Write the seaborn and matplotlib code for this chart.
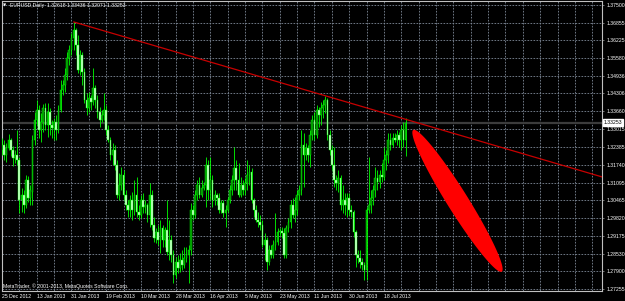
import numpy as np
import pandas as pd
import matplotlib
matplotlib.use("Agg")
import matplotlib.pyplot as plt
import matplotlib.transforms as mtransforms
from matplotlib.patches import Polygon
import seaborn as sns

# ---------------- data (EURUSD, Daily) ----------------
opens = [
    1.3227, 1.3245, 1.3209, 1.3234, 1.3263, 1.3227, 1.3198, 1.3209, 1.3191, 1.3047,
    1.3065, 1.3029, 1.3119, 1.3054, 1.3076, 1.3263, 1.3335, 1.3371, 1.3299, 1.3328,
    1.3378, 1.3317, 1.3364, 1.3317, 1.3306, 1.3328, 1.3299, 1.3371, 1.3443, 1.3461,
    1.3497, 1.3558, 1.3587, 1.3630, 1.3659, 1.3605, 1.3515, 1.3569, 1.3508, 1.3407,
    1.3378, 1.3414, 1.3400, 1.3450, 1.3407, 1.3364, 1.3335, 1.3353, 1.3371, 1.3299,
    1.3263, 1.3209, 1.3227, 1.3173, 1.3065, 1.3101, 1.3137, 1.3065, 1.3029, 1.3011,
    1.3047, 1.3011, 1.3065, 1.3004, 1.2993, 1.3047, 1.3022, 1.3029, 1.2993, 1.3065,
    1.2957, 1.2910, 1.2932, 1.2903, 1.2946, 1.2903, 1.2939, 1.2860, 1.2903, 1.2849,
    1.2777, 1.2824, 1.2802, 1.2831, 1.2813, 1.2838, 1.2849, 1.2867, 1.3011, 1.2993,
    1.3065, 1.3101, 1.3065, 1.3090, 1.3101, 1.3173, 1.3083, 1.3119, 1.3047, 1.3065,
    1.3054, 1.3011, 1.3036, 1.3000, 1.3011, 1.3047, 1.3083, 1.3119, 1.3162, 1.3119,
    1.3065, 1.3101, 1.3083, 1.3108, 1.3137, 1.3148, 1.3047, 1.3011, 1.2975, 1.2968,
    1.2957, 1.2885, 1.2903, 1.2824, 1.2867, 1.2849, 1.2885, 1.2896, 1.2932, 1.2935,
    1.2928, 1.2849, 1.2946, 1.2968, 1.3029, 1.2993, 1.3011, 1.3065, 1.3083, 1.3245,
    1.3209, 1.3234, 1.3209, 1.3281, 1.3335, 1.3281, 1.3371, 1.3353, 1.3378, 1.3389,
    1.3407, 1.3281, 1.3227, 1.3173, 1.3119, 1.3108, 1.3126, 1.3029, 1.3047, 1.3029,
    1.3054, 1.3011, 1.3004, 1.2932, 1.2849, 1.2838, 1.2824, 1.2813, 1.2795, 1.3011,
    1.3029, 1.3054, 1.3083, 1.3126, 1.3112, 1.3137, 1.3130, 1.3191, 1.3209, 1.3263,
    1.3245, 1.3270, 1.3263, 1.3281, 1.3263, 1.3299, 1.32618,
]
highs = [
    1.3270, 1.3263, 1.3252, 1.3285, 1.3270, 1.3241, 1.3227, 1.3299, 1.3202, 1.3090,
    1.3083, 1.3137, 1.3134, 1.3101, 1.3281, 1.3364, 1.3407, 1.3389, 1.3360, 1.3393,
    1.3396, 1.3396, 1.3378, 1.3335, 1.3342, 1.3353, 1.3389, 1.3479, 1.3479, 1.3522,
    1.3580, 1.3605, 1.3648, 1.3688, 1.3666, 1.3641, 1.3587, 1.3580, 1.3522, 1.3432,
    1.3436, 1.3425, 1.3522, 1.3461, 1.3425, 1.3382, 1.3371, 1.3432, 1.3389, 1.3317,
    1.3274, 1.3252, 1.3245, 1.3191, 1.3144, 1.3166, 1.3155, 1.3083, 1.3047, 1.3065,
    1.3076, 1.3119, 1.3130, 1.3029, 1.3065, 1.3072, 1.3047, 1.3036, 1.3108, 1.3083,
    1.2986, 1.2946, 1.2957, 1.2975, 1.2957, 1.2950, 1.3047, 1.2975, 1.2921, 1.2867,
    1.2842, 1.2849, 1.2856, 1.2867, 1.2878, 1.2878, 1.2885, 1.3036, 1.3029, 1.3083,
    1.3119, 1.3130, 1.3119, 1.3112, 1.3202, 1.3191, 1.3202, 1.3137, 1.3083, 1.3072,
    1.3072, 1.3047, 1.3047, 1.3029, 1.3058, 1.3101, 1.3137, 1.3238, 1.3191, 1.3180,
    1.3130, 1.3119, 1.3126, 1.3191, 1.3173, 1.3162, 1.3054, 1.3029, 1.3004, 1.2993,
    1.2975, 1.2928, 1.2914, 1.2885, 1.2885, 1.2903, 1.3000, 1.2946, 1.2946, 1.2950,
    1.2946, 1.2957, 1.2982, 1.3047, 1.3054, 1.3058, 1.3083, 1.3101, 1.3299, 1.3288,
    1.3252, 1.3245, 1.3299, 1.3353, 1.3364, 1.3389, 1.3382, 1.3400, 1.3407, 1.3421,
    1.3414, 1.3299, 1.3245, 1.3238, 1.3137, 1.3155, 1.3137, 1.3101, 1.3072, 1.3072,
    1.3072, 1.3029, 1.3011, 1.2939, 1.2867, 1.2867, 1.2838, 1.2824, 1.3022, 1.3202,
    1.3083, 1.3101, 1.3166, 1.3155, 1.3155, 1.3180, 1.3238, 1.3227, 1.3288, 1.3288,
    1.3288, 1.3288, 1.3299, 1.3292, 1.3317, 1.3328, 1.33436,
]
lows = [
    1.3209, 1.3191, 1.3184, 1.3227, 1.3205, 1.3169, 1.3180, 1.3173, 1.3000, 1.3004,
    1.3000, 1.3018, 1.3040, 1.3029, 1.3029, 1.3245, 1.3317, 1.3270, 1.3256, 1.3292,
    1.3299, 1.3274, 1.3281, 1.3270, 1.3263, 1.3263, 1.3288, 1.3364, 1.3425, 1.3436,
    1.3479, 1.3533, 1.3569, 1.3587, 1.3569, 1.3504, 1.3497, 1.3461, 1.3396, 1.3353,
    1.3364, 1.3371, 1.3389, 1.3378, 1.3342, 1.3310, 1.3328, 1.3335, 1.3281, 1.3256,
    1.3191, 1.3173, 1.3155, 1.3054, 1.3047, 1.3083, 1.3047, 1.3011, 1.2986, 1.2986,
    1.2975, 1.2993, 1.2986, 1.2975, 1.2982, 1.3000, 1.3000, 1.2968, 1.2950, 1.2939,
    1.2896, 1.2892, 1.2885, 1.2856, 1.2878, 1.2878, 1.2849, 1.2831, 1.2824, 1.2748,
    1.2766, 1.2784, 1.2788, 1.2795, 1.2802, 1.2824, 1.2748, 1.2849, 1.2975, 1.2982,
    1.3047, 1.3054, 1.3058, 1.3083, 1.3022, 1.3047, 1.3047, 1.3022, 1.3029, 1.3029,
    1.3000, 1.3000, 1.2986, 1.2950, 1.3004, 1.3036, 1.3065, 1.3083, 1.3083, 1.3058,
    1.3058, 1.3065, 1.3065, 1.3083, 1.3101, 1.3036, 1.2986, 1.2968, 1.2950, 1.2939,
    1.2878, 1.2831, 1.2795, 1.2813, 1.2838, 1.2838, 1.2867, 1.2885, 1.2917, 1.2910,
    1.2838, 1.2838, 1.2932, 1.2946, 1.2982, 1.2968, 1.2993, 1.3047, 1.3065, 1.3094,
    1.3191, 1.3184, 1.3166, 1.3263, 1.3263, 1.3270, 1.3310, 1.3317, 1.3342, 1.3360,
    1.3263, 1.3209, 1.3155, 1.3094, 1.3083, 1.3076, 1.3011, 1.3000, 1.2993, 1.2986,
    1.2993, 1.2986, 1.2914, 1.2806, 1.2820, 1.2802, 1.2795, 1.2759, 1.2759, 1.3000,
    1.3000, 1.3029, 1.3058, 1.3083, 1.3090, 1.3112, 1.3119, 1.3155, 1.3180, 1.3227,
    1.3238, 1.3256, 1.3245, 1.3238, 1.3227, 1.3238, 1.32071,
]
closes = [
    1.3245, 1.3209, 1.3234, 1.3263, 1.3227, 1.3198, 1.3209, 1.3191, 1.3047, 1.3065,
    1.3029, 1.3119, 1.3054, 1.3083, 1.3263, 1.3335, 1.3371, 1.3299, 1.3328, 1.3378,
    1.3317, 1.3364, 1.3317, 1.3306, 1.3328, 1.3299, 1.3371, 1.3443, 1.3461, 1.3497,
    1.3558, 1.3587, 1.3630, 1.3659, 1.3605, 1.3515, 1.3569, 1.3508, 1.3407, 1.3378,
    1.3414, 1.3400, 1.3450, 1.3407, 1.3364, 1.3335, 1.3353, 1.3371, 1.3299, 1.3263,
    1.3209, 1.3227, 1.3173, 1.3065, 1.3101, 1.3137, 1.3065, 1.3029, 1.3011, 1.3047,
    1.3011, 1.3065, 1.3004, 1.2993, 1.3047, 1.3022, 1.3029, 1.2993, 1.3065, 1.2957,
    1.2910, 1.2932, 1.2903, 1.2946, 1.2903, 1.2939, 1.2860, 1.2903, 1.2849, 1.2777,
    1.2824, 1.2802, 1.2831, 1.2813, 1.2838, 1.2849, 1.2867, 1.3011, 1.2993, 1.3065,
    1.3101, 1.3065, 1.3090, 1.3101, 1.3173, 1.3083, 1.3119, 1.3047, 1.3065, 1.3054,
    1.3011, 1.3036, 1.3000, 1.3011, 1.3047, 1.3083, 1.3119, 1.3162, 1.3119, 1.3065,
    1.3101, 1.3083, 1.3108, 1.3137, 1.3148, 1.3047, 1.3011, 1.2975, 1.2968, 1.2957,
    1.2885, 1.2903, 1.2824, 1.2867, 1.2849, 1.2885, 1.2896, 1.2932, 1.2935, 1.2928,
    1.2849, 1.2946, 1.2968, 1.3029, 1.2993, 1.3011, 1.3065, 1.3083, 1.3245, 1.3209,
    1.3234, 1.3209, 1.3281, 1.3335, 1.3281, 1.3371, 1.3353, 1.3378, 1.3389, 1.3407,
    1.3281, 1.3227, 1.3173, 1.3119, 1.3108, 1.3126, 1.3029, 1.3047, 1.3029, 1.3054,
    1.3011, 1.3004, 1.2932, 1.2849, 1.2838, 1.2824, 1.2813, 1.2795, 1.3011, 1.3029,
    1.3054, 1.3083, 1.3126, 1.3112, 1.3137, 1.3130, 1.3191, 1.3209, 1.3263, 1.3245,
    1.3270, 1.3263, 1.3281, 1.3263, 1.3299, 1.3263, 1.33253,
]

date_labels = ["25 Dec 2012", "13 Jan 2013", "31 Jan 2013", "19 Feb 2013",
               "10 Mar 2013", "28 Mar 2013", "16 Apr 2013", "5 May 2013",
               "23 May 2013", "11 Jun 2013", "30 Jun 2013", "18 Jul 2013"]
price_ticks = [1.37500, 1.36855, 1.36225, 1.35580, 1.34936, 1.34306, 1.33660,
               1.33015, 1.32385, 1.31740, 1.31095, 1.30465, 1.29820, 1.29175,
               1.28530, 1.27900, 1.27255]
price_labels = ["1.37500", "1.36855", "1.36225", "1.35580", "1.34936", "1.34306",
                "1.33660", "1.33015", "1.32385", "1.31740", "1.31095", "1.30465",
                "1.29820", "1.29175", "1.28530", "1.27900", "1.27255"]

# trend line (bar index, price) and the red ellipse (major-axis tips)
trend_x = [33, 277]
trend_y = [1.3688, 1.3129]
ellipse_x = [189.5, 230.3]
ellipse_y = [1.3299, 1.2789]

header = "EURUSD,Daily  1.32618 1.33436 1.32071 1.33253"
credit = "MetaTrader, \u00a9 2001-2013, MetaQuotes Software Corp."
last_price = "1.33253"

# ---------------- style ----------------
sns.set_theme(style="dark")
plt.rcParams['font.family'] = ['Liberation Sans', 'DejaVu Sans']

W, H, DPI = 625, 301, 100
fig = plt.figure(figsize=(W / DPI, H / DPI), dpi=DPI, facecolor='black')
ax = fig.add_axes([2 / W, 10 / H, 600 / W, 290 / H])
ax.set_facecolor('black')

df = pd.DataFrame({"open": opens, "high": highs, "low": lows, "close": closes})
df["bar"] = np.arange(len(df))
df["bull"] = df["close"] >= df["open"]

ax.set_xlim(0, 276.5)
ax.set_ylim(1.27194, 1.37634)

# grid
ax.set_axisbelow(True)
ax.set_xticks(np.arange(0, 277, 8))
xl = []
for k in np.arange(0, 277, 8):
    idx = k // 16
    xl.append(date_labels[idx] if (k % 16 == 0 and idx < len(date_labels)) else "")
ax.set_xticklabels(xl)
for lab in ax.get_xticklabels():
    lab.set_ha('left')
ax.yaxis.tick_right()
ax.set_yticks(price_ticks)
ax.set_yticklabels(price_labels)
ax.grid(True, color='#7f8a99', linestyle=(0, (2.0, 1.6)), linewidth=0.6)
ax.tick_params(axis='both', colors='#c8c8c8', labelcolor='white', labelsize=3.7,
               length=1.5, width=0.4, pad=1.0)
ax.tick_params(axis='y', pad=1.5)
for s in ax.spines.values():
    s.set_color('#c0c0c0')
    s.set_linewidth(0.8)

# current price line
ax.axhline(closes[-1], color='#3c3c3c', lw=1.6, zorder=1.5)

# candles
ax.vlines(df["bar"], df["low"], df["high"], color='#00ff00', lw=0.6, zorder=3)
bull = df[df["bull"]]
bear = df[~df["bull"]]
ax.bar(bull["bar"], bull["close"] - bull["open"], bottom=bull["open"], width=0.8,
       color='#008a00', edgecolor='#00ff00', linewidth=0.3, zorder=4)
ax.bar(bear["bar"], bear["open"] - bear["close"], bottom=bear["close"], width=0.8,
       color='#d8ffd8', edgecolor='#00ff00', linewidth=0.3, zorder=4)

# trend line
sns.lineplot(x=trend_x, y=trend_y, color='#c80000', lw=0.9, ax=ax, zorder=5,
             legend=False)
ax.set_xlim(0, 276.5)
ax.set_ylim(1.27194, 1.37634)
ax.set_xlabel("")
ax.set_ylabel("")

# red ellipse
p1 = ax.transData.transform((ellipse_x[0], ellipse_y[0]))
p2 = ax.transData.transform((ellipse_x[1], ellipse_y[1]))
c = (p1 + p2) / 2
d = p2 - p1
a = np.hypot(*d) / 2
u = d / (2 * a)
v = np.array([-u[1], u[0]])
b = 10.5
t = np.linspace(0, 2 * np.pi, 240)
pts = c + a * np.cos(t)[:, None] * u + b * np.sin(t)[:, None] * v
ax.add_patch(Polygon(ax.transData.inverted().transform(pts), closed=True,
                     facecolor='#ff0000', edgecolor='none', zorder=6))

# current price label
trans = mtransforms.blended_transform_factory(ax.transAxes, ax.transData)
ax.text(1.0035, closes[-1], last_price, transform=trans, ha='left', va='center',
        fontsize=3.7, color='black', zorder=10, clip_on=False,
        bbox=dict(facecolor='white', edgecolor='white', pad=0.5))

# header and credit texts
fig.text(3 / W, 1 - 5.8 / H, "\u25bc", color='white', fontsize=3.0, va='center',
         family=['DejaVu Sans'])
fig.text(10 / W, 1 - 5.8 / H, header, color='white', fontsize=3.7, va='center')
fig.text(3 / W, 1 - 286.5 / H, credit, color='white', fontsize=3.7, va='center')

fig.savefig("out.png", dpi=DPI, facecolor='black')
